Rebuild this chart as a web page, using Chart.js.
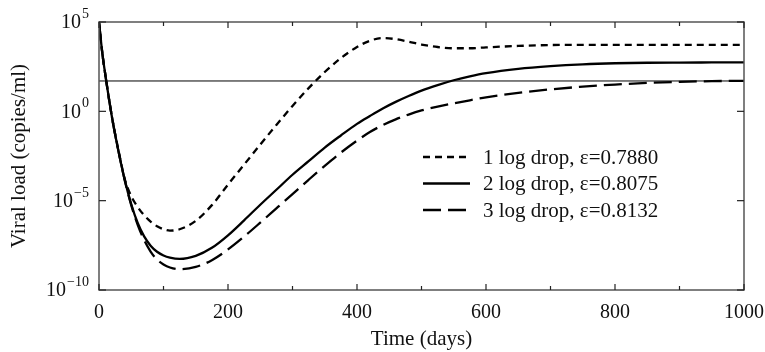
<!DOCTYPE html>
<html><head><meta charset="utf-8">
<script src="https://cdn.jsdelivr.net/npm/chart.js@4"></script>
<style>html,body{margin:0;padding:0;background:#fff}#wrap{width:765px;height:352px;position:relative}</style>
</head><body><div id="wrap"><canvas id="c"></canvas></div>
<script>
// ---- data (viral load given as log10 copies/ml) ----
const days = [0,5,10,20,30,40,50,60,70,80,90,100,110,125,150,175,200,225,250,275,300,325,350,375,400,420,440,460,480,500,525,550,575,600,650,700,750,800,850,900,950,1000];
const drop1Log10 = [5,3.3,2.0,-0.3,-2.15,-3.8,-4.75,-5.35,-5.82,-6.17,-6.43,-6.6,-6.68,-6.6,-6.13,-5.25,-4.1,-2.98,-1.86,-0.76,0.3,1.3,2.2,2.98,3.6,3.95,4.1,4.04,3.9,3.74,3.6,3.53,3.53,3.58,3.66,3.71,3.72,3.72,3.72,3.72,3.72,3.72];
const drop2Log10 = [5,3.3,2.0,-0.3,-2.2,-3.85,-5.2,-6.25,-7.0,-7.52,-7.86,-8.07,-8.19,-8.26,-8.09,-7.64,-6.94,-6.1,-5.23,-4.39,-3.55,-2.79,-2.03,-1.35,-0.7,-0.26,0.16,0.53,0.86,1.16,1.47,1.74,1.96,2.14,2.38,2.53,2.63,2.69,2.72,2.73,2.735,2.74];
const drop3Log10 = [5,3.3,2.0,-0.3,-2.2,-3.87,-5.25,-6.35,-7.2,-7.85,-8.3,-8.57,-8.74,-8.84,-8.71,-8.33,-7.73,-7.01,-6.23,-5.43,-4.63,-3.83,-3.05,-2.31,-1.64,-1.16,-0.77,-0.45,-0.18,0.05,0.27,0.45,0.62,0.78,1.03,1.23,1.38,1.5,1.59,1.65,1.69,1.71];
const detectionLimit = 50;
const detectionDays = [0,1000];
const seriesLabels = ['1 log drop, \u03b5=0.7880','2 log drop, \u03b5=0.8075','3 log drop, \u03b5=0.8132'];
const xTickValues = [0,200,400,600,800,1000];
const xMinorStep = 100;
const yTickValues = [1e-10,1e-5,1,1e5];
const yTickExponents = ['\u221210','\u22125','0','5'];
const xTitle = 'Time (days)';
const yTitle = 'Viral load (copies/ml)';

const FONT = "'Liberation Serif','Times New Roman',serif";
Chart.defaults.font.family = FONT;
Chart.defaults.font.size = 20;
Chart.defaults.color = '#111';

const toPts = (xs, logs) => xs.map((d,i)=>({x:d, y:Math.pow(10, logs[i])}));

const framePlugin = {
  id:'frame',
  afterDatasetsDraw(chart){
    const {ctx, chartArea:{left,right,top,bottom}, scales:{x,y}} = chart;
    ctx.save();
    const seg=(a,b,c,d)=>{ctx.beginPath();ctx.moveTo(a,b);ctx.lineTo(c,d);ctx.stroke();};
    ctx.strokeStyle='#555'; ctx.lineWidth=1.5;
    ctx.strokeRect(left,top,right-left,bottom-top);
    ctx.strokeStyle='#222'; ctx.lineWidth=1.2;
    for(let v=x.min; v<=x.max; v+=xMinorStep){
      const px=x.getPixelForValue(v);
      const len = xTickValues.includes(v)?6:4;
      seg(px,bottom,px,bottom-len); seg(px,top,px,top+len);
    }
    yTickValues.forEach(v=>{
      const py=y.getPixelForValue(v);
      seg(left,py,left+7,py); seg(right,py,right-7,py);
    });
    // y tick labels with superscript exponents
    ctx.fillStyle='#111';
    yTickValues.forEach((v,i)=>{
      const py=y.getPixelForValue(v);
      const xEnd = left - 10;
      ctx.font='14px '+FONT;
      const ws = ctx.measureText(yTickExponents[i]).width;
      ctx.font='20px '+FONT;
      const wb = ctx.measureText('10').width;
      ctx.textAlign='left'; ctx.textBaseline='middle';
      ctx.fillText('10', xEnd-ws-1-wb, py+1);
      ctx.font='14px '+FONT; ctx.textBaseline='alphabetic';
      ctx.fillText(yTickExponents[i], xEnd-ws, py-4);
    });
    // legend
    const items = chart.data.datasets.filter(d=>d.inLegend);
    const lx0=423, lx1=470, tx=483, ty0=157, dy=26.5;
    ctx.font = '21px '+FONT; ctx.textBaseline='middle'; ctx.textAlign='left';
    items.forEach((d,i)=>{
      const yy=ty0+i*dy;
      ctx.strokeStyle=d.borderColor; ctx.lineWidth=d.borderWidth; ctx.setLineDash(d.borderDash||[]);
      seg(lx0,yy,lx1,yy);
      ctx.setLineDash([]);
      ctx.fillText(d.label, tx, yy+1);
    });
    ctx.restore();
  }
};

new Chart(document.getElementById('c'), {
  type:'line',
  data:{ datasets:[
    {label:'detection limit', data:toPts(detectionDays,[Math.log10(detectionLimit),Math.log10(detectionLimit)]), borderColor:'#000', borderWidth:1, pointRadius:0, inLegend:false},
    {label:seriesLabels[0], data:toPts(days,drop1Log10), borderColor:'#000', borderWidth:2.3, borderDash:[7,5], pointRadius:0, cubicInterpolationMode:'monotone', inLegend:true},
    {label:seriesLabels[1], data:toPts(days,drop2Log10), borderColor:'#000', borderWidth:2.3, pointRadius:0, cubicInterpolationMode:'monotone', inLegend:true},
    {label:seriesLabels[2], data:toPts(days,drop3Log10), borderColor:'#000', borderWidth:2.3, borderDash:[18,7], pointRadius:0, cubicInterpolationMode:'monotone', inLegend:true}
  ]},
  options:{
    responsive:true, maintainAspectRatio:false, animation:false,
    layout:{padding:{top:22,right:21,bottom:0,left:0}},
    plugins:{legend:{display:false}, tooltip:{enabled:false}},
    scales:{
      x:{type:'linear', min:0, max:1000,
        afterBuildTicks:s=>{s.ticks=xTickValues.map(v=>({value:v}));},
        ticks:{padding:3, maxRotation:0, autoSkip:false, callback:v=>String(v)},
        grid:{display:false}, border:{display:false},
        title:{display:true, text:xTitle, font:{size:21}, padding:{top:0,bottom:0}},
        afterFit:s=>{s.height=62; s.paddingRight=0; s.paddingLeft=0;}
      },
      y:{type:'logarithmic', min:1e-10, max:1e5,
        afterBuildTicks:s=>{s.ticks=yTickValues.map(v=>({value:v}));},
        ticks:{display:false},
        grid:{display:false}, border:{display:false},
        title:{display:true, text:yTitle, font:{size:21}, padding:{top:7,bottom:0}},
        afterFit:s=>{s.width=99;}
      }
    }
  },
  plugins:[framePlugin]
});
</script></body></html>
